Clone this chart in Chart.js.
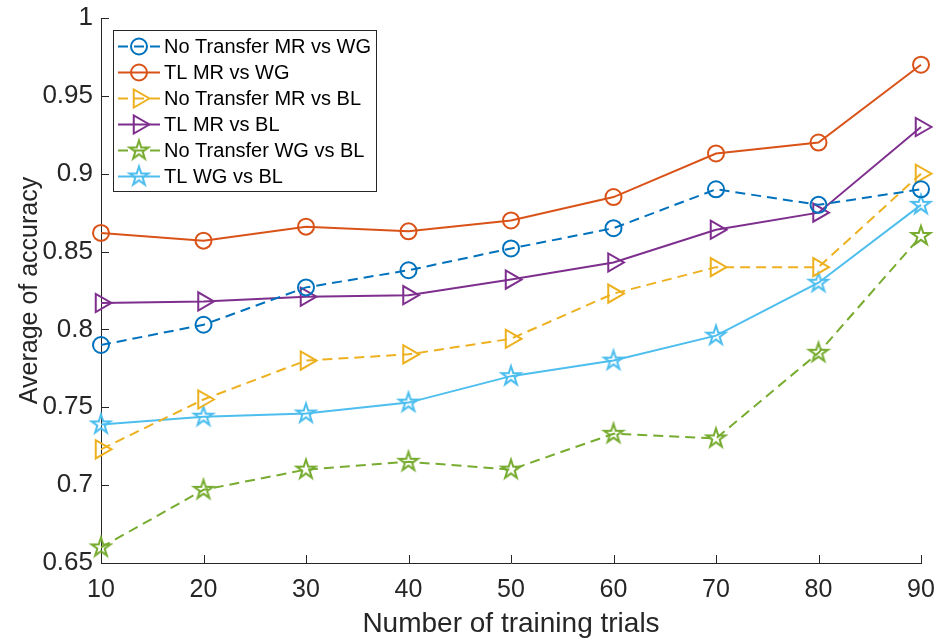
<!DOCTYPE html>
<html>
<head>
<meta charset="utf-8">
<script src="https://cdn.jsdelivr.net/npm/chart.js@4/dist/chart.umd.min.js"></script>
<style>
  html, body { margin: 0; padding: 0; background: #fff; }
  canvas { display: block; }
</style>
</head>
<body>
<canvas id="c" width="942" height="643"></canvas>
<script>
// Number of training trials (x axis)
const trials = [10, 20, 30, 40, 50, 60, 70, 80, 90];
const xTickLabels = ['10', '20', '30', '40', '50', '60', '70', '80', '90'];
const yTickLabels = ['0.65', '0.7', '0.75', '0.8', '0.85', '0.9', '0.95', '1'];

// Average accuracy per condition
const noTransferMRvsWG = [0.790, 0.803, 0.827, 0.838, 0.852, 0.865, 0.890, 0.880, 0.890];
const tlMRvsWG         = [0.862, 0.857, 0.866, 0.863, 0.870, 0.885, 0.913, 0.920, 0.970];
const noTransferMRvsBL = [0.723, 0.755, 0.780, 0.784, 0.794, 0.823, 0.840, 0.840, 0.900];
const tlMRvsBL         = [0.817, 0.818, 0.821, 0.822, 0.832, 0.843, 0.864, 0.875, 0.930];
const noTransferWGvsBL = [0.660, 0.697, 0.710, 0.715, 0.710, 0.733, 0.730, 0.785, 0.860];
const tlWGvsBL         = [0.739, 0.744, 0.746, 0.753, 0.770, 0.780, 0.796, 0.830, 0.880];

const seriesNames = [
  'No Transfer MR vs WG', 'TL MR vs WG',
  'No Transfer MR vs BL', 'TL MR vs BL',
  'No Transfer WG vs BL', 'TL WG vs BL'
];

const FONT = '"Liberation Sans", Arial, Helvetica, sans-serif';
const AXIS_COLOR = '#262626';

// Hollow five-pointed star used as a marker
function starMarker(color, outer, lw) {
  const size = Math.ceil(outer * 2 + lw * 2 + 4);
  const c = document.createElement('canvas');
  c.width = size; c.height = size;
  const g = c.getContext('2d');
  const cx = size / 2, cy = size / 2, inner = outer * 0.382;
  g.beginPath();
  for (let i = 0; i < 10; i++) {
    const r = i % 2 ? inner : outer;
    const a = -Math.PI / 2 + i * Math.PI / 5;
    const px = cx + r * Math.cos(a), py = cy + r * Math.sin(a);
    if (i === 0) g.moveTo(px, py); else g.lineTo(px, py);
  }
  g.closePath();
  g.strokeStyle = color;
  g.lineWidth = lw;
  g.lineJoin = 'miter';
  g.stroke();
  return c;
}

function series(label, values, color, dashed, marker) {
  const ds = {
    label,
    data: values.map((v, i) => ({ x: trials[i], y: v })),
    borderColor: color,
    backgroundColor: 'rgba(0,0,0,0)',
    borderWidth: 2,
    borderDash: dashed ? [10, 6] : [],
    pointBorderColor: color,
    pointBackgroundColor: 'rgba(0,0,0,0)',
    pointBorderWidth: 2,
    tension: 0,
    clip: false
  };
  if (marker === 'circle') {
    ds.pointStyle = 'circle';
    ds.pointRadius = 8;
  } else if (marker === 'triangle') {
    ds.pointStyle = 'triangle';
    ds.pointRadius = 10.5;
    ds.pointRotation = 90;
  } else {
    ds.pointStyle = starMarker(color, 10, 2);
    ds.pointRadius = 10;
  }
  return ds;
}

const datasets = [
  series(seriesNames[0], noTransferMRvsWG, '#0072BD', true,  'circle'),
  series(seriesNames[1], tlMRvsWG,         '#D95319', false, 'circle'),
  series(seriesNames[2], noTransferMRvsBL, '#EDB120', true,  'triangle'),
  series(seriesNames[3], tlMRvsBL,         '#7E2F8E', false, 'triangle'),
  series(seriesNames[4], noTransferWGvsBL, '#77AC30', true,  'star'),
  series(seriesNames[5], tlWGvsBL,         '#4DBEEE', false, 'star')
];

// Short ticks pointing into the plot area
const innerTicks = {
  id: 'innerTicks',
  beforeDatasetsDraw(chart) {
    const { ctx, chartArea: a, scales: { x, y } } = chart;
    ctx.save();
    ctx.strokeStyle = AXIS_COLOR;
    ctx.lineWidth = 1;
    ctx.beginPath();
    x.ticks.forEach((t, i) => {
      const px = Math.round(x.getPixelForTick(i)) + 0.5;
      ctx.moveTo(px, a.bottom);
      ctx.lineTo(px, a.bottom - 8);
    });
    y.ticks.forEach((t, i) => {
      const py = Math.round(y.getPixelForTick(i)) + 0.5;
      ctx.moveTo(a.left, py);
      ctx.lineTo(a.left + 8, py);
    });
    ctx.stroke();
    ctx.restore();
  }
};

// Boxed legend inside the plot area, line sample with marker per series
const boxedLegend = {
  id: 'boxedLegend',
  afterDraw(chart) {
    const { ctx, chartArea: a } = chart;
    const bx = a.left + 12, by = 30, bw = 263, bh = 161;
    ctx.save();
    ctx.fillStyle = '#fff';
    ctx.fillRect(bx, by, bw, bh);
    ctx.strokeStyle = AXIS_COLOR;
    ctx.lineWidth = 1;
    ctx.strokeRect(bx + 0.5, by + 0.5, bw, bh);
    chart.data.datasets.forEach((ds, i) => {
      const cy = by + 16.5 + i * 26;
      ctx.save();
      ctx.strokeStyle = ds.borderColor;
      ctx.lineWidth = ds.borderWidth;
      ctx.setLineDash(ds.borderDash);
      ctx.beginPath();
      ctx.moveTo(bx + 5, cy);
      ctx.lineTo(bx + 47, cy);
      ctx.stroke();
      ctx.restore();
      ctx.save();
      ctx.strokeStyle = ds.pointBorderColor;
      ctx.fillStyle = ds.pointBackgroundColor;
      ctx.lineWidth = ds.pointBorderWidth;
      Chart.helpers.drawPoint(ctx, {
        pointStyle: ds.pointStyle,
        radius: ds.pointRadius,
        rotation: ds.pointRotation || 0,
        borderWidth: ds.pointBorderWidth
      }, bx + 26, cy);
      ctx.restore();
      ctx.fillStyle = '#000';
      ctx.font = '20px ' + FONT;
      ctx.textAlign = 'left';
      ctx.textBaseline = 'middle';
      ctx.fillText(ds.label, bx + 51, cy + 1);
    });
    ctx.restore();
  }
};

function labelFor(list, value) {
  const hit = list.find(s => Math.abs(Number(s) - value) < 1e-6);
  return hit === undefined ? '' : hit;
}

// Keep tick labels from pushing the plot area inward
function noOverflow(scale) {
  scale.paddingTop = 0;
  scale.paddingBottom = 0;
  scale.paddingLeft = 0;
  scale.paddingRight = 0;
}

new Chart(document.getElementById('c'), {
  type: 'line',
  data: { datasets },
  plugins: [innerTicks, boxedLegend],
  options: {
    responsive: false,
    animation: false,
    devicePixelRatio: 1,
    layout: { padding: { top: 18, right: 21, left: 0, bottom: 0 } },
    plugins: { legend: { display: false }, tooltip: { enabled: false } },
    scales: {
      x: {
        type: 'linear',
        min: 10, max: 90,
        afterFit(scale) { scale.height = 80; noOverflow(scale); },
        border: { display: true, color: AXIS_COLOR, width: 1 },
        grid: { display: true, drawOnChartArea: false, drawTicks: false },
        ticks: {
          stepSize: 10,
          padding: 12,
          color: AXIS_COLOR,
          font: { size: 25, family: FONT },
          maxRotation: 0,
          callback: v => labelFor(xTickLabels, v)
        },
        title: {
          display: true,
          text: 'Number of training trials',
          color: AXIS_COLOR,
          font: { size: 28, family: FONT },
          padding: { top: 0, bottom: 2 }
        }
      },
      y: {
        type: 'linear',
        min: 0.65, max: 1,
        afterFit(scale) { scale.width = 101; noOverflow(scale); },
        border: { display: true, color: AXIS_COLOR, width: 1 },
        grid: { display: true, drawOnChartArea: false, drawTicks: false },
        ticks: {
          stepSize: 0.05,
          padding: 8,
          color: AXIS_COLOR,
          font: { size: 26, family: FONT },
          callback: v => labelFor(yTickLabels, v)
        },
        title: {
          display: true,
          text: 'Average of accuracy',
          color: AXIS_COLOR,
          font: { size: 25, family: FONT },
          padding: { top: 15, bottom: 0 }
        }
      }
    }
  }
});
</script>
</body>
</html>
